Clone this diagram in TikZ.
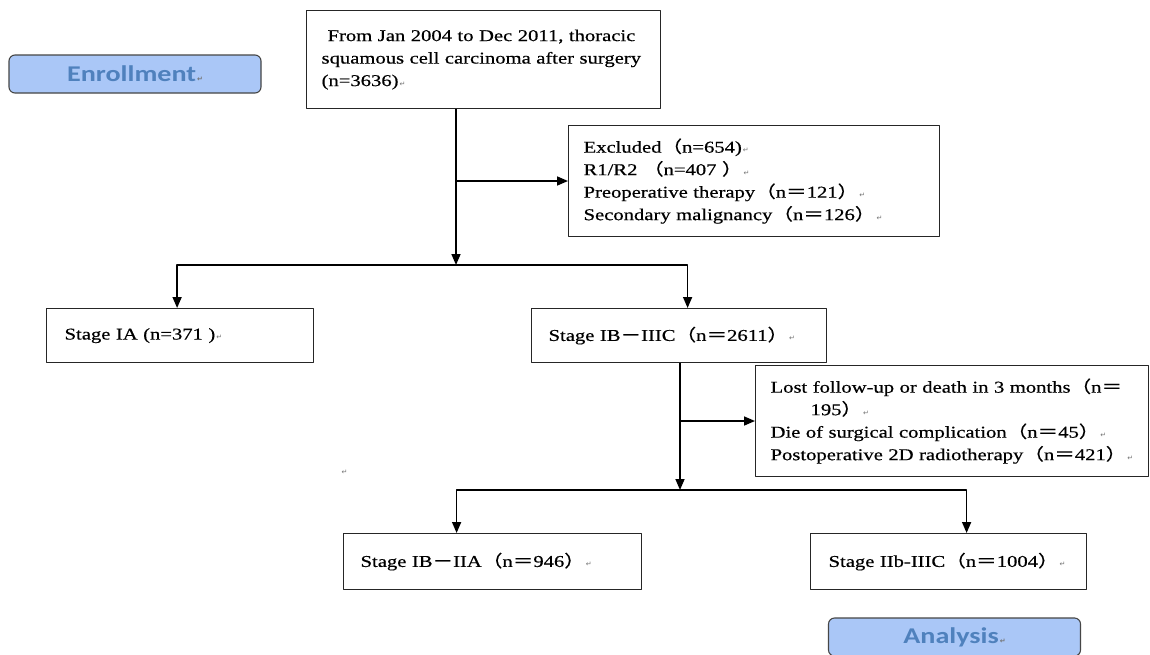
\documentclass[tikz,border=0pt]{standalone}
\usepackage{fontspec}
\setmainfont[FakeStretch=1.25,FakeBold=0.5]{Liberation Serif}
\newfontfamily\cjk[FakeStretch=1.25,FakeBold=0.5]{Noto Sans CJK SC}
\newfontfamily\headfont[FakeStretch=1.25]{Carlito}
\newfontfamily\markfont{DejaVu Sans}
\usetikzlibrary{arrows.meta}
\usetikzlibrary{positioning}

\definecolor{phasefill}{RGB}{170,199,247}
\definecolor{phasetext}{RGB}{79,129,189}
\definecolor{phaseline}{RGB}{70,70,70}

% word-style paragraph mark and full-width signs
\newcommand{\pmk}{{\markfont\fontsize{7}{7}\selectfont\color{black!55}\kern1pt↵}}
\newcommand{\lpr}{{\cjk （}}
\newcommand{\rpr}{{\cjk ）}}
\newcommand{\feq}{{\cjk ＝}}
\newcommand{\fdash}{{\cjk －}}

\begin{document}
\begin{tikzpicture}[
  x=1pt, y=-1pt,
  line join=round,
  >=Triangle,
  flowbox/.style={draw=black!85, line width=1.2pt, anchor=north west,
    align=left, inner xsep=15pt, inner ysep=4pt,
    font=\fontsize{16.5}{22.5}\selectfont},
  phase/.style={draw=phaseline, fill=phasefill, line width=1.1pt,
    rounded corners=6pt, minimum width=252pt, minimum height=38pt,
    text=phasetext, font=\headfont\bfseries\fontsize{22.5}{22.5}\selectfont},
  link/.style={-{Triangle[length=11pt,width=9pt]}, line width=1.6pt},
  every node/.style={inner sep=0pt}
]

\useasboundingbox (0,0) rectangle (1150,654);
\fill [white] (0,0) rectangle (1150,654);

% phase labels
\node [phase] (enroll) at (135,74) {Enrollment\pmk};
\node [phase] (analysis) at (954.5,637) {Analysis\pmk};

% boxes
\node [flowbox, text width=324pt, minimum height=98pt] (source) at (306,10)
  {\hspace{6pt}From Jan 2004 to Dec 2011, thoracic\\
   squamous cell carcinoma after surgery\\
   (n=3636)\pmk\\[14pt]};
\node [flowbox, text width=341pt, minimum height=111pt] (excl) at (568,125)
  {Excluded\lpr n=654)\pmk\\
   R1/R2 \lpr n=407 \rpr\pmk\\
   Preoperative therapy\lpr n\feq 121\rpr\pmk\\
   Secondary malignancy\lpr n\feq 126\rpr\pmk};
\node [flowbox, text width=231pt, minimum height=54pt, inner xsep=18pt] (ia) at (46,308)
  {Stage IA (n=371 )\pmk\\[6pt]};
\node [flowbox, text width=261pt, minimum height=54pt, inner xsep=17pt] (ib) at (531,308)
  {Stage IB\fdash IIIC\lpr n\feq 2611\rpr\pmk\\[6pt]};
\node [flowbox, text width=363pt, minimum height=111pt] (lost) at (755,365)
  {Lost follow-up or death in 3 months\lpr n\feq\\
   \hspace{40pt}195\rpr\pmk\\
   Die of surgical complication\lpr n\feq 45\rpr\pmk\\
   Postoperative 2D radiotherapy\lpr n\feq 421\rpr\pmk};
\node [flowbox, text width=264pt, minimum height=56pt, inner xsep=17pt] (early) at (343,533)
  {Stage IB\fdash IIA\lpr n\feq 946\rpr\pmk\\[8pt]};
\node [flowbox, text width=240pt, minimum height=56pt, inner xsep=18pt] (late) at (810,533)
  {Stage IIb-IIIC\lpr n\feq 1004\rpr\pmk\\[8pt]};
\node (stray) at (344,472) {\pmk};

% connectors
\coordinate (split1) at (456,265);
\coordinate (tap1) at (456,181);
\coordinate (split2) at (680,490);
\coordinate (tap2) at (680,421);

\draw [link] (source.south -| split1) -- (split1);
\draw [link] (tap1) -- (tap1 -| excl.west);
\draw [link] (split1) -| ([xshift=-3pt]ia.north);
\draw [link] (split1) -| ([xshift=8.5pt]ib.north);

\draw [link] (ib.south -| split2) -- (split2);
\draw [link] (tap2) -- (tap2 -| lost.west);
\draw [link] (split2) -| ([xshift=-36pt]early.north);
\draw [link] (split2) -| ([xshift=18pt]late.north);

\end{tikzpicture}
\end{document}
